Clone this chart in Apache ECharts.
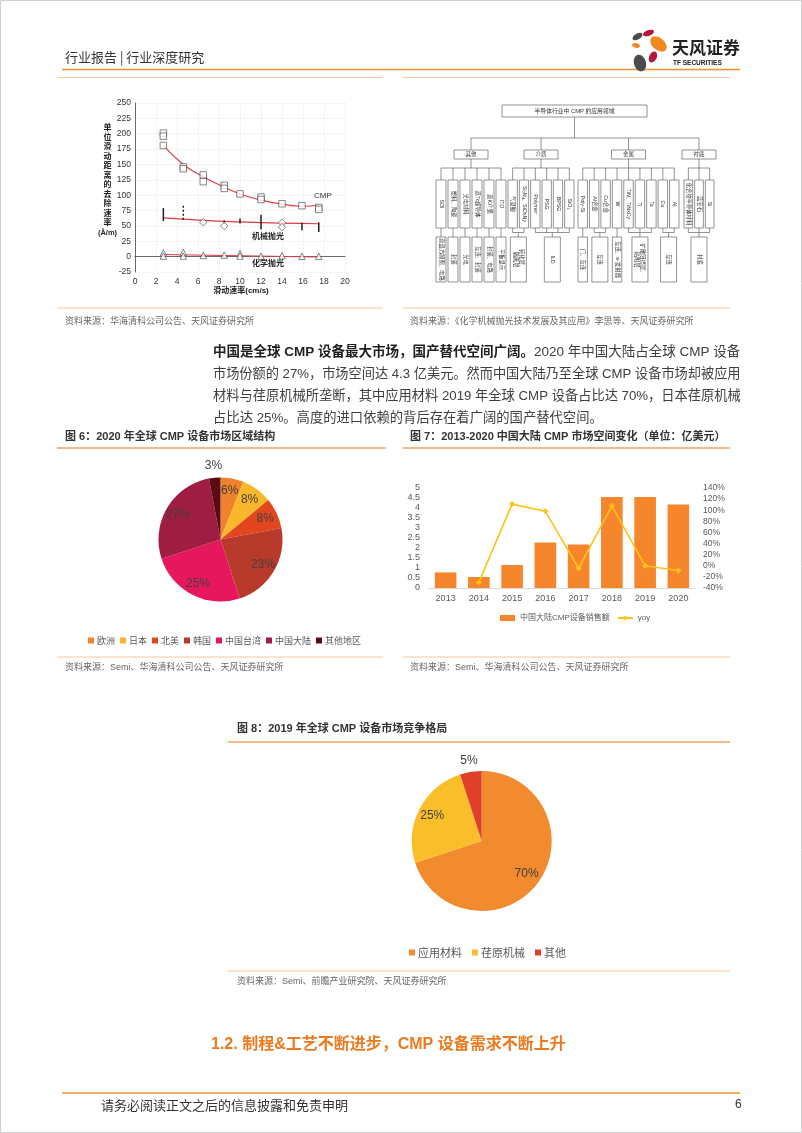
<!DOCTYPE html>
<html><head><meta charset="utf-8">
<script src="https://cdn.jsdelivr.net/npm/echarts@6/dist/echarts.min.js"></script>
<style>html,body{margin:0;padding:0;background:#fff}#c{width:802px;height:1133px}</style>
</head><body><div id="c"></div>
<script>
// ---------------- data ----------------
// Fig (top-left): removal rate vs sliding speed
const cmpPoints = [[2.7,201],[2.7,196],[2.7,181],[4.6,146],[4.6,143],[6.5,133],[6.5,122],[8.5,116],[8.5,111],[10,102],[12,97],[12,93],[14,86],[15.9,83],[17.5,80],[17.5,77]];
const cmpFit = [[2.7,181],[4.6,150],[6.5,130],[8.5,113],[10,102],[12,92],[14,85.5],[15.9,82],[17.5,84]];
const mechPoints = [[6.5,56],[8.5,50],[14,55],[14,48]];
const mechFit = [[2.7,63],[6.5,59],[10,56.5],[14,54.5],[17.5,53.5]];
const mechErr = [[2.7,58,79,0],[4.6,60,83,1],[8.5,54,59,0],[10,54,62,0],[12,44,68,0],[15.9,43,55,0],[17.5,40,56,0]];
const chemPoints = [[2.7,6],[2.7,1],[4.6,7],[4.6,1],[6.5,2],[8.5,2.5],[10,5],[10,1],[12,0.5],[14,1.5],[15.9,0.5],[17.5,0.5]];
const chemFit = [[2.7,3.5],[10,1.5],[17.5,-0.5]];
const rateYAxisName = ['单','位','滑','动','距','离','的','去','除','速','率','(Å/m)'];

// Diagram (top-right)
const diagramRoot = '半导体行业中 CMP 的应用领域';
const diagramCats = ['其他','介质','金属','衬底'];
const diagramLeaves = [
  ['SOI','塑料、陶瓷','光电材料','高Tc超导体','高K介质','ITO'],
  ['气凝胶','Si₃N₄、SiOxNy','Polymer','PSG','BPSG','SiO₂'],
  ['Poly-Si','Al合金','Cu合金','W','TiN、TiNxCy','Ti','Ta','Cu','Al'],
  ['化合物半导体材料','蓝宝石','Si']
];
const diagramUses = [
  [['高温方膜圈、电路',0,0],['封装',1,1],['光电',2,2],['互连、封装',3,3],['封装、电路',4,4],['平板显示',5,5]],
  [['钝化层、\n隔离层',0,1],['ILD',2,5]],
  [['门、互连',0,0],['互连',1,2],['互连、e-发射器',3,3],['扩散阻挡层、\n粘附层',4,6],['互连',7,8]],
  [['衬底',0,2]]
];

// Paragraph
const paraBold = '中国是全球 CMP 设备最大市场，国产替代空间广阔。';
const paraLines = [
  '2020 年中国大陆占全球 CMP 设备',
  '市场份额的 27%，市场空间达 4.3 亿美元。然而中国大陆乃至全球 CMP 设备市场却被应用',
  '材料与荏原机械所垄断，其中应用材料 2019 年全球 CMP 设备占比达 70%，日本荏原机械',
  '占比达 25%。高度的进口依赖的背后存在着广阔的国产替代空间。'
];

// Fig 6
const fig6Regions = ['欧洲','日本','北美','韩国','中国台湾','中国大陆','其他地区'];
const fig6Shares = [6,8,8,23,25,27,3];
// Fig 7
const fig7Years = ['2013','2014','2015','2016','2017','2018','2019','2020'];
const fig7Sales = [0.78,0.55,1.15,2.28,2.18,4.55,4.55,4.18];
const fig7Yoy = [null,-29.5,111,98,-4.5,108,0,-8.5];
// Fig 8
const fig8Companies = ['应用材料','荏原机械','其他'];
const fig8Shares = [70,25,5];

// ---------------- styling helpers ----------------
const FONT = '"Liberation Sans","Noto Sans CJK SC",sans-serif';
const CJK = '"Noto Sans CJK SC",sans-serif';
const ORANGE = '#F0922E';
const LIGHT = '#F6C79A';

const mctx = document.createElement('canvas').getContext('2d');
function measure(text, size, weight) { mctx.font = (weight || 'normal') + ' ' + size + 'px ' + FONT; return mctx.measureText(text).width; }

function txt(x, y, text, size, color, o) {
  o = o || {};
  const el = {type:'text', x:x, y:y, silent:true, z:10,
    style:{text:text, fontSize:size, fontFamily:o.family||FONT, fontWeight:o.weight||'normal',
      fill:color, align:o.align||'left', verticalAlign:'middle', lineHeight:o.lineHeight||undefined, rich:o.rich}};
  if (o.rotation != null) el.rotation = o.rotation;
  return el;
}
function hline(x1, x2, y, color, w) {
  return {type:'line', silent:true, shape:{x1:x1,y1:y,x2:x2,y2:y}, style:{stroke:color, lineWidth:w}};
}
function petal(cx, cy, rx, ry, deg, color) {
  return {type:'ellipse', silent:true, x:cx, y:cy, rotation:-deg*Math.PI/180, shape:{cx:0,cy:0,rx:rx,ry:ry}, style:{fill:color}};
}

function buildDiagram() {
  const els = [];
  const S = '#666', LW = 0.7, FS = 5.3;
  const box = (x,y,w,h) => ({type:'rect', silent:true, shape:{x:x,y:y,width:w,height:h}, style:{fill:'#fff', stroke:S, lineWidth:LW}});
  const ln = (x1,y1,x2,y2) => ({type:'line', silent:true, shape:{x1:x1,y1:y1,x2:x2,y2:y2}, style:{stroke:S, lineWidth:LW}});
  const root = {x:502, y:105, w:145, h:12};
  els.push(box(root.x, root.y, root.w, root.h));
  els.push(txt(root.x + root.w/2, root.y + root.h/2, diagramRoot, 5.8, '#333', {align:'center'}));
  const rc = root.x + root.w/2;
  const busY = 138, catY = 150, catH = 9, catW = 34, leafBusY = 168, leafTop = 180, leafH = 48, useBusY = 232.5, useTop = 237, useH = 45;
  const gx = [435,507,577,683], gw = [72,68,103,32];
  const catCx = gx.map((x,i) => x + gw[i]/2);
  els.push(ln(rc, root.y + root.h, rc, busY));
  els.push(ln(catCx[0], busY, catCx[3], busY));
  diagramCats.forEach((c, i) => {
    const cx = catCx[i];
    els.push(ln(cx, busY, cx, catY));
    els.push(box(cx - catW/2, catY, catW, catH));
    els.push(txt(cx, catY + catH/2, c, 5.5, '#333', {align:'center'}));
    const leaves = diagramLeaves[i];
    const lw = gw[i] / leaves.length;
    const lc = k => gx[i] + lw*(k + 0.5);
    els.push(ln(cx, catY + catH, cx, leafBusY));
    els.push(ln(lc(0), leafBusY, lc(leaves.length - 1), leafBusY));
    leaves.forEach((l, k) => {
      els.push(ln(lc(k), leafBusY, lc(k), leafTop));
      els.push(box(lc(k) - lw/2 + 1, leafTop, lw - 2, leafH));
      els.push(txt(lc(k), leafTop + leafH/2, l, FS, '#333', {align:'center', rotation:-Math.PI/2}));
    });
    diagramUses[i].forEach(u => {
      const t = u[0], a = u[1], b = u[2];
      const mid = (lc(a) + lc(b)) / 2;
      const span = lw * (b - a + 1);
      const w = Math.min(span - 2, 16);
      if (a === b) {
        els.push(ln(lc(a), leafTop + leafH, lc(a), useTop));
      } else {
        els.push(ln(lc(a), useBusY, lc(b), useBusY));
        for (let k = a; k <= b; k++) els.push(ln(lc(k), leafTop + leafH, lc(k), useBusY));
        els.push(ln(mid, useBusY, mid, useTop));
      }
      els.push(box(mid - w/2, useTop, w, useH));
      els.push(txt(mid, useTop + useH/2, t, FS, '#333', {align:'center', rotation:-Math.PI/2, lineHeight:6}));
    });
  });
  return els;
}

function pieSet(names, values, center, r, colors, smallIdx, pad) {
  const main = {type:'pie', center:center, radius:[0, r], startAngle:90, clockwise:true, silent:true,
    label:{show:false}, labelLine:{show:false}, emphasis:{disabled:true},
    data:names.map((n,i) => ({name:n, value:values[i], itemStyle:{color:colors[i]}}))};
  const lab = {show:true, position:'inside', formatter:'{c}%', fontSize:12, color:'#404040', fontFamily:FONT};
  const inner = {type:'pie', center:center, radius:[r/2, r], startAngle:90, clockwise:true, silent:true,
    itemStyle:{color:'rgba(0,0,0,0)'}, label:lab, labelLine:{show:false}, emphasis:{disabled:true},
    data:names.map((n,i) => ({name:n, value:values[i], label:{show: smallIdx.indexOf(i) < 0}}))};
  const outer = {type:'pie', center:center, radius:[r, r + 2*pad], startAngle:90, clockwise:true, silent:true,
    itemStyle:{color:'rgba(0,0,0,0)'}, label:lab, labelLine:{show:false}, emphasis:{disabled:true},
    data:names.map((n,i) => ({name:n, value:values[i], label:{show: smallIdx.indexOf(i) >= 0}}))};
  return [main, inner, outer];
}

// ---------------- graphic ----------------
const g = [];
g.push({type:'rect', silent:true, shape:{x:0.5,y:0.5,width:801,height:1132}, style:{fill:'none', stroke:'#cfcfcf', lineWidth:1}});
// header
g.push(txt(65, 57, '行业报告 | 行业深度研究', 13, '#333', {family:CJK}));
g.push(hline(62, 740, 69.5, ORANGE, 1.6));
g.push(hline(57, 383, 77.5, LIGHT, 1));
g.push(hline(403, 730, 77.5, LIGHT, 1));
// logo
g.push(petal(648.5, 33, 2.8, 5.8, 70, '#B3183E'));
g.push(petal(637.5, 36.5, 5.5, 3, -30, '#4B4B4B'));
g.push(petal(658.5, 44, 9.5, 6, 40, '#F08A1E'));
g.push(petal(636, 45.5, 4, 2.4, 10, '#F08A1E'));
g.push(petal(653, 57, 3.8, 5.8, 25, '#B3183E'));
g.push(petal(640, 63, 6, 8.5, -15, '#4B4B4B'));
g.push(txt(672, 47.5, '天风证券', 17, '#222', {family:CJK, weight:'bold'}));
g.push(txt(673, 63.5, 'TF SECURITIES', 6.5, '#222', {weight:'bold'}));

// top-left chart annotations
rateYAxisName.forEach((ch, i) => g.push(txt(107.5, 128 + i*9.5, ch, i === rateYAxisName.length - 1 ? 7.5 : 8, '#222', {align:'center', weight:'bold'})));
g.push(txt(241, 290.5, '滑动速率(cm/s)', 8, '#222', {align:'center', weight:'bold'}));
g.push(txt(314, 195.5, 'CMP', 8, '#333', {}));
g.push(txt(268, 237, '机械抛光', 8, '#222', {align:'center', weight:'bold'}));
g.push(txt(268, 264, '化学抛光', 8, '#222', {align:'center', weight:'bold'}));

// diagram
buildDiagram().forEach(e => g.push(e));

// sources (top)
g.push(hline(57, 383, 308, LIGHT, 1));
g.push(hline(403, 730, 308, LIGHT, 1));
g.push(txt(65, 321, '资料来源：华海清科公司公告、天风证券研究所', 9, '#666', {family:CJK}));
g.push(txt(410, 321, '资料来源：《化学机械抛光技术发展及其应用》李思等、天风证券研究所', 9, '#666', {family:CJK}));

// paragraph (justified to 528px by sizing each full line)
const PW = 528, PX = 213, PY = [352, 374, 396, 418];
const w0 = measure(paraBold, 14, 'bold') + measure(paraLines[0], 14);
const sizes = [14 * PW / w0, 14 * PW / measure(paraLines[1], 14), 14 * PW / measure(paraLines[2], 14)];
sizes.push((sizes[0] + sizes[1] + sizes[2]) / 3);
paraLines.forEach((line, i) => {
  const s = sizes[i];
  const rich = {b:{fontSize:s, fontWeight:'bold', fill:'#1f1f1f', fontFamily:FONT}, n:{fontSize:s, fill:'#404040', fontFamily:FONT}};
  const t = (i === 0 ? '{b|' + paraBold + '}' : '') + '{n|' + line + '}';
  g.push(txt(PX, PY[i], t, s, '#404040', {rich:rich}));
});

// fig titles 6 / 7
g.push(txt(65, 437, '图 6：2020 年全球 CMP 设备市场区域结构', 11, '#333', {weight:'bold'}));
g.push(hline(57, 386, 448, '#F2A55E', 1.3));
g.push(txt(410, 437, '图 7：2013-2020 中国大陆 CMP 市场空间变化（单位：亿美元）', 11, '#333', {weight:'bold'}));
g.push(hline(403, 730, 448, '#F2A55E', 1.3));
// sources 6 / 7
g.push(hline(57, 383, 657, LIGHT, 1));
g.push(hline(403, 730, 657, LIGHT, 1));
g.push(txt(65, 668, '资料来源：Semi、华海清科公司公告、天风证券研究所', 9, '#666', {}));
g.push(txt(410, 668, '资料来源：Semi、华海清科公司公告、天风证券研究所', 9, '#666', {}));
// fig 8
g.push(txt(237, 729, '图 8：2019 年全球 CMP 设备市场竞争格局', 11, '#333', {weight:'bold'}));
g.push(hline(228, 730, 742, '#F2A55E', 1.3));
g.push(hline(228, 730, 971, LIGHT, 1));
g.push(txt(237, 982, '资料来源：Semi、前瞻产业研究院、天风证券研究所', 9, '#666', {}));
// section heading
g.push(txt(211, 1045, '1.2. 制程&工艺不断进步，CMP 设备需求不断上升', 16, '#EC7A1E', {weight:'bold'}));
// footer
g.push(hline(62, 740, 1093, ORANGE, 1.6));
g.push(txt(101, 1105, '请务必阅读正文之后的信息披露和免责申明', 13, '#333', {family:CJK}));
g.push(txt(735, 1105, '6', 12, '#333', {}));

// ---------------- option ----------------
const errSeries = {
  type:'custom', xAxisIndex:0, yAxisIndex:0, silent:true, clip:false, data:mechErr, z:3,
  renderItem: function (params, api) {
    const x = api.value(0);
    const p1 = api.coord([x, api.value(1)]);
    const p2 = api.coord([x, api.value(2)]);
    return {type:'line', shape:{x1:p1[0], y1:p1[1], x2:p2[0], y2:p2[1]},
      style:{stroke:'#222', lineWidth:1.5, lineDash: api.value(3) ? [2, 2] : null}};
  }
};
const fitLine = (data) => ({type:'line', xAxisIndex:0, yAxisIndex:0, data:data, smooth:true, showSymbol:false, silent:true, z:2,
  lineStyle:{color:'#E03A44', width:1.1}});
const hollow = (data, symbol, size) => ({type:'scatter', xAxisIndex:0, yAxisIndex:0, data:data, symbol:symbol, symbolSize:size, silent:true, z:4,
  itemStyle:{color:'#fff', borderColor:'#444', borderWidth:0.8}});

const option = {
  animation:false,
  backgroundColor:'#fff',
  textStyle:{fontFamily:FONT},
  grid:[
    {left:135, top:103, width:210, height:169, containLabel:false, outerBoundsMode:'none'},
    {left:429, top:488, width:266, height:100, containLabel:false, outerBoundsMode:'none'}
  ],
  xAxis:[
    {type:'value', gridIndex:0, min:0, max:20, interval:2,
      axisLine:{show:true, lineStyle:{color:'#444', width:0.8}}, axisTick:{show:false},
      axisLabel:{fontSize:8.5, color:'#333', margin:5},
      splitLine:{show:true, lineStyle:{color:'#e4e4e4', type:'dashed', width:0.6}}},
    {type:'category', gridIndex:1, data:fig7Years,
      axisLine:{show:true, lineStyle:{color:'#d9d9d9'}}, axisTick:{show:false},
      axisLabel:{fontSize:9, color:'#595959', margin:6}}
  ],
  yAxis:[
    {type:'value', gridIndex:0, min:-25, max:250, interval:25,
      axisLine:{show:true, lineStyle:{color:'#444', width:0.8}}, axisTick:{show:false},
      axisLabel:{fontSize:8.5, color:'#333', margin:4},
      splitLine:{show:true, lineStyle:{color:'#e4e4e4', type:'dashed', width:0.6}}},
    {type:'value', gridIndex:1, min:0, max:5, interval:0.5,
      axisLine:{show:false}, axisTick:{show:false}, splitLine:{show:false},
      axisLabel:{fontSize:9, color:'#595959', margin:9}},
    {type:'value', gridIndex:1, position:'right', min:-40, max:140, interval:20,
      axisLine:{show:false}, axisTick:{show:false}, splitLine:{show:false},
      axisLabel:{fontSize:8.5, color:'#595959', margin:8, formatter:'{value}%'}}
  ],
  legend:[
    {data:fig6Regions, left:83, top:631, orient:'horizontal', itemWidth:6, itemHeight:6, itemGap:5, icon:'rect', selectedMode:false,
      textStyle:{fontSize:9, color:'#595959', fontFamily:CJK, padding:[0,0,0,-2]}},
    {data:[{name:'中国大陆CMP设备销售额', icon:'rect'}, {name:'yoy'}], left:495, top:609, itemWidth:15, itemHeight:6, itemGap:7, selectedMode:false,
      textStyle:{fontSize:8, color:'#595959'}},
    {data:fig8Companies, left:404, top:942, itemWidth:6, itemHeight:6, itemGap:10, icon:'rect', selectedMode:false,
      textStyle:{fontSize:11, color:'#595959', fontFamily:CJK, padding:[0,0,0,-2]}}
  ],
  graphic:{elements:g},
  series:[
    fitLine(cmpFit), fitLine(mechFit), fitLine(chemFit), errSeries,
    hollow(cmpPoints, 'rect', 6.5), hollow(mechPoints, 'diamond', 7.5), hollow(chemPoints, 'triangle', 6.5),
    {type:'bar', name:'中国大陆CMP设备销售额', xAxisIndex:1, yAxisIndex:1, data:fig7Sales, barWidth:'65%',
      itemStyle:{color:'#F5862B'}, silent:true},
    {type:'line', name:'yoy', xAxisIndex:1, yAxisIndex:2, data:fig7Yoy, symbol:'diamond', symbolSize:6,
      itemStyle:{color:'#FFC21A'}, lineStyle:{color:'#FFC21A', width:1.6}, silent:true}
  ]
    .concat(pieSet(fig6Regions, fig6Shares, [220.5, 539.5], 62,
      ['#F0822E','#F9B82B','#E3461E','#B83A2A','#E6175C','#A01D42','#5C0A14'], [6], 9))
    .concat(pieSet(fig8Companies, fig8Shares, [481.7, 841], 70,
      ['#F28A2E','#F9BE2A','#E0402A'], [2], 8))
};

const chart = echarts.init(document.getElementById('c'), null, {renderer:'canvas'});
chart.setOption(option);
</script>
</body></html>
